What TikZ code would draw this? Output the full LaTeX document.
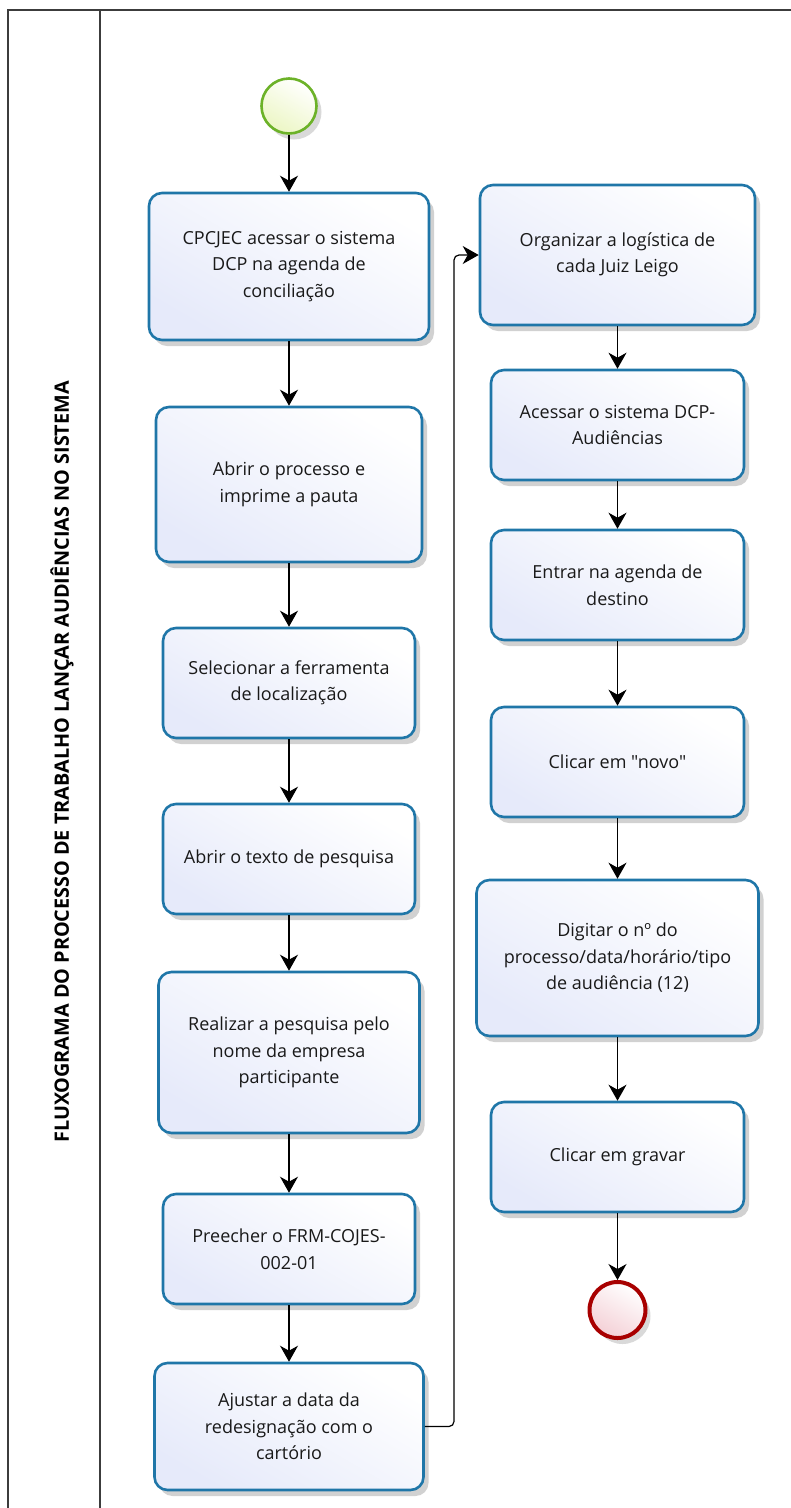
\documentclass[tikz,border=0pt]{standalone}
\usepackage{fontspec}
\setmainfont{Open Sans}[Ligatures=TeXOff]
\usetikzlibrary{arrows.meta,shadows}
\definecolor{taskborder}{RGB}{31,118,168}
\definecolor{taskfill}{RGB}{230,234,250}
\definecolor{startborder}{RGB}{108,178,40}
\definecolor{startfill}{RGB}{236,246,196}
\definecolor{endborder}{RGB}{168,0,0}
\definecolor{endfill}{RGB}{244,208,214}
\definecolor{framecol}{RGB}{60,60,60}
\tikzset{
  task/.style={draw=taskborder, line width=2.6pt, rounded corners=13pt,
    top color=white, bottom color=taskfill, shading angle=-30,
    align=center, inner sep=4pt, text=black!90,
    font=\fontsize{18}{26.5}\selectfont,
    drop shadow={shadow xshift=5pt, shadow yshift=-6pt, opacity=0.18, fill=black}},
  startev/.style={circle, draw=startborder, line width=2.6pt, minimum size=55pt,
    inner sep=0pt, top color=white, bottom color=startfill, shading angle=-30,
    drop shadow={shadow xshift=5pt, shadow yshift=-6pt, opacity=0.15, fill=black}},
  endev/.style={circle, draw=endborder, line width=4pt, minimum size=56pt,
    inner sep=0pt, top color=white, bottom color=endfill, shading angle=-30,
    drop shadow={shadow xshift=5pt, shadow yshift=-6pt, opacity=0.15, fill=black}},
  flow/.style={draw=black, line width=1.2pt, -{Stealth[length=16pt,width=18pt,inset=5pt]}},
  framel/.style={draw=framecol, line width=1.6pt},
}
\begin{document}
\begin{tikzpicture}[x=1pt,y=-1pt]
\useasboundingbox (0,0) rectangle (791,1508);
% frame
\draw[framel] (8,1530) -- (8,10) -- (810,10);
\draw[framel] (100,10) -- (100,1530);
\node[rotate=90, font=\bfseries\fontsize{19.8}{22}\selectfont] (title) at (62,762)
  {FLUXOGRAMA DO PROCESSO DE TRABALHO LANÇAR AUDIÊNCIAS NO SISTEMA};
% left column
\node[startev] (start) at (289,106) {};
\node[task, minimum width=280pt, minimum height=147pt] (l1) at (289,266.5)
  {CPCJEC acessar o sistema\\DCP na agenda de\\conciliação};
\node[task, minimum width=266pt, minimum height=155pt] (l2) at (289,484.5)
  {Abrir o processo e\\imprime a pauta};
\node[task, minimum width=252pt, minimum height=110pt] (l3) at (289,683)
  {Selecionar a ferramenta\\de localização};
\node[task, minimum width=252pt, minimum height=110pt] (l4) at (289,859)
  {Abrir o texto de pesquisa};
\node[task, minimum width=261pt, minimum height=161pt] (l5) at (289,1052.5)
  {Realizar a pesquisa pelo\\nome da empresa\\participante};
\node[task, minimum width=252pt, minimum height=110pt] (l6) at (289,1249)
  {Preecher o FRM-COJES-\\002-01};
\node[task, minimum width=269pt, minimum height=127pt] (l7) at (289,1426.5)
  {Ajustar a data da\\redesignação com o\\cartório};
% right column
\node[task, minimum width=275pt, minimum height=140pt] (r1) at (617.5,255)
  {Organizar a logística de\\cada Juiz Leigo};
\node[task, minimum width=253pt, minimum height=110pt] (r2) at (617.5,425)
  {Acessar o sistema DCP-\\Audiências};
\node[task, minimum width=253pt, minimum height=110pt] (r3) at (617.5,585)
  {Entrar na agenda de\\destino};
\node[task, minimum width=253pt, minimum height=110pt] (r4) at (617.5,762)
  {Clicar em "novo"};
\node[task, minimum width=282pt, minimum height=156pt] (r5) at (617.5,958)
  {Digitar o nº do\\processo/data/horário/tipo\\de audiência (12)};
\node[task, minimum width=253pt, minimum height=110pt] (r6) at (617.5,1157)
  {Clicar em gravar};
\node[endev] (end) at (617.5,1310) {};
% connectors
\draw[flow] (start) -- (l1);
\draw[flow] (l1) -- (l2);
\draw[flow] (l2) -- (l3);
\draw[flow] (l3) -- (l4);
\draw[flow] (l4) -- (l5);
\draw[flow] (l5) -- (l6);
\draw[flow] (l6) -- (l7);
\coordinate (bx) at (454,800);
\draw[flow, rounded corners=5pt] (l7.east) -| (bx) |- (r1.west);
\draw[flow] (r1) -- (r2);
\draw[flow] (r2) -- (r3);
\draw[flow] (r3) -- (r4);
\draw[flow] (r4) -- (r5);
\draw[flow] (r5) -- (r6);
\draw[flow] (r6) -- (end);
\end{tikzpicture}
\end{document}
